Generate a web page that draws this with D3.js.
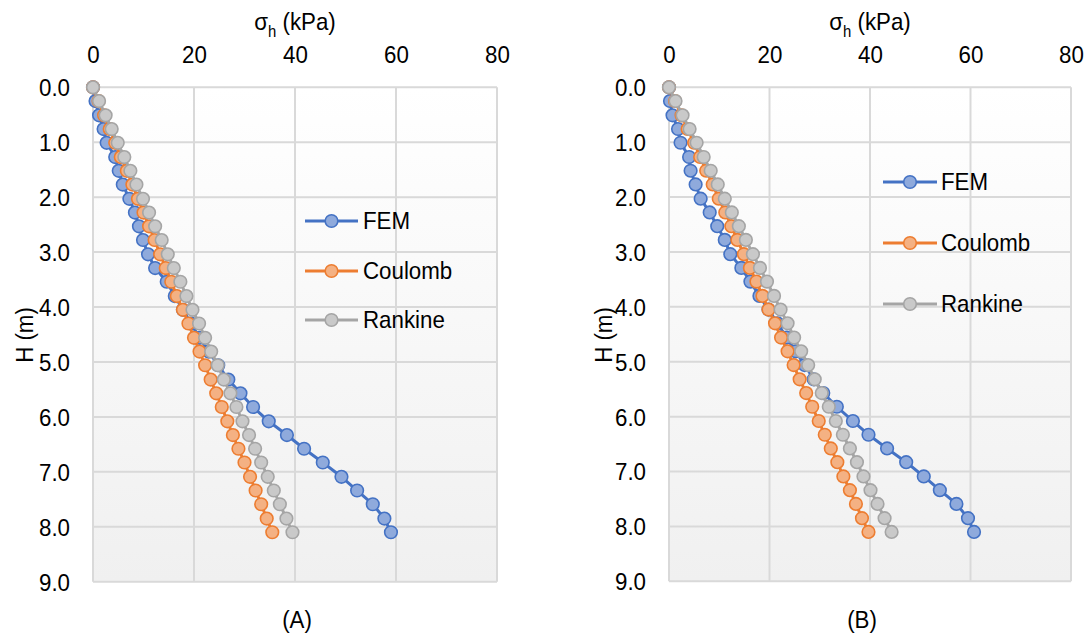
<!DOCTYPE html>
<html>
<head>
<meta charset="utf-8">
<script src="https://cdn.jsdelivr.net/npm/d3@7"></script>
<style>
  html, body { margin: 0; padding: 0; background: #ffffff; }
  svg text { font-family: "Liberation Sans", Arial, sans-serif; fill: #000; }
</style>
</head>
<body>
<svg id="chart" width="1086" height="636"></svg>
<script>
// ---- data ----
const depth = [0, 0.25, 0.51, 0.76, 1.01, 1.27, 1.52, 1.77, 2.03, 2.28, 2.53, 2.78, 3.04, 3.29, 3.54, 3.80,
               4.05, 4.30, 4.56, 4.81, 5.06, 5.32, 5.57, 5.82, 6.08, 6.33, 6.58, 6.83, 7.09, 7.34, 7.59, 7.85, 8.10];

const femA      = [0, 0.5, 1.2, 2.1, 2.7, 4.4, 5.1, 5.9, 7.2, 8.3, 9.1, 9.9, 10.9, 12.3, 14.6, 16.2,
                   17.8, 19.4, 21.1, 22.9, 24.8, 26.8, 29.2, 31.7, 34.8, 38.4, 41.8, 45.5, 49.2, 52.3, 55.4, 57.7, 59.0];
const coulombA  = [0, 1.1, 2.2, 3.3, 4.4, 5.5, 6.7, 7.8, 8.9, 10.0, 11.1, 12.2, 13.3, 14.4, 15.5, 16.6,
                   17.8, 18.9, 20.0, 21.1, 22.2, 23.3, 24.4, 25.5, 26.6, 27.7, 28.8, 30.0, 31.1, 32.2, 33.3, 34.4, 35.5];
const rankineA  = [0, 1.2, 2.5, 3.7, 4.9, 6.2, 7.4, 8.6, 9.9, 11.1, 12.3, 13.6, 14.8, 16.0, 17.3, 18.5,
                   19.7, 21.0, 22.2, 23.4, 24.7, 25.9, 27.2, 28.4, 29.6, 30.9, 32.1, 33.3, 34.6, 35.8, 37.0, 38.3, 39.5];

const femB      = [0, 0.2, 0.7, 1.8, 2.3, 4.0, 4.3, 5.3, 6.3, 8.1, 9.6, 11.1, 12.2, 14.4, 16.2, 18.0,
                   19.8, 21.6, 23.4, 25.2, 27.0, 28.8, 30.7, 33.4, 36.6, 39.7, 43.4, 47.2, 50.7, 53.9, 57.2, 59.5, 60.7];
const coulombB  = [0, 1.2, 2.5, 3.7, 5.0, 6.2, 7.4, 8.7, 9.9, 11.2, 12.4, 13.6, 14.9, 16.1, 17.4, 18.6,
                   19.8, 21.1, 22.3, 23.6, 24.8, 26.0, 27.3, 28.5, 29.8, 31.0, 32.2, 33.5, 34.7, 36.0, 37.2, 38.4, 39.7];
const rankineB  = [0, 1.3, 2.7, 4.1, 5.5, 6.9, 8.3, 9.7, 11.1, 12.5, 13.9, 15.3, 16.7, 18.1, 19.5, 20.9,
                   22.2, 23.6, 24.9, 26.3, 27.7, 29.0, 30.4, 31.8, 33.2, 34.6, 36.0, 37.4, 38.7, 40.1, 41.5, 42.9, 44.3];

const seriesNames = ["FEM", "Coulomb", "Rankine"];
const xTicks = [0, 20, 40, 60, 80];
const yTicks = [0, 1, 2, 3, 4, 5, 6, 7, 8, 9];
const panelLabels = ["(A)", "(B)"];

// ---- styles ----
const lineColors   = ["#4472C4", "#ED7D31", "#A5A5A5"];
const markerFills  = ["#8FAADC", "#F4B183", "#C9C9C9"];
const gridColor = "#D9D9D9";
const FS = 24;
const SX = 0.93;   // horizontal condensing of the lettering

const svg = d3.select("#chart");
const defs = svg.append("defs");
const grad = defs.append("linearGradient").attr("id", "bg").attr("x1", 0).attr("y1", 0).attr("x2", 0).attr("y2", 1);
grad.append("stop").attr("offset", "0%").attr("stop-color", "#ffffff");
grad.append("stop").attr("offset", "100%").attr("stop-color", "#F0F0F0");

function label(parent, x, y, anchor, rot) {
  return parent.append("text")
    .attr("transform", `translate(${x},${y})` + (rot ? ` rotate(${rot})` : "") + ` scale(${SX},1)`)
    .attr("text-anchor", anchor)
    .style("font-size", FS + "px");
}

const panels = [
  { left: 93, right: 497, top: 87.3, bottom: 581.7, data: [femA, coulombA, rankineA],
    legend: { x1: 305, x2: 358, tx: 363, ys: [221, 271, 320] }, yLabelX: 25, subX: 297 },
  { left: 669, right: 1071, top: 87.3, bottom: 581.3, data: [femB, coulombB, rankineB],
    legend: { x1: 883, x2: 937, tx: 941, ys: [182, 243, 304] }, yLabelX: 604, subX: 862 }
];

panels.forEach((p, pi) => {
  const x = d3.scaleLinear().domain([0, 80]).range([p.left, p.right]);
  const y = d3.scaleLinear().domain([0, 9]).range([p.top, p.bottom]);
  const g = svg.append("g");

  g.append("rect").attr("x", p.left).attr("y", p.top)
    .attr("width", p.right - p.left).attr("height", p.bottom - p.top)
    .attr("fill", "url(#bg)");

  g.selectAll(".vg").data(xTicks).join("line")
    .attr("x1", d => x(d)).attr("x2", d => x(d))
    .attr("y1", p.top).attr("y2", p.bottom)
    .attr("stroke", gridColor).attr("stroke-width", 2);
  g.selectAll(".hg").data(yTicks).join("line")
    .attr("x1", p.left).attr("x2", p.right)
    .attr("y1", d => y(d)).attr("y2", d => y(d))
    .attr("stroke", gridColor).attr("stroke-width", 2);

  const xAxis = d3.axisTop(x).tickValues(xTicks).tickSize(0).tickPadding(0).tickFormat(d3.format("d"));
  const xa = g.append("g").attr("transform", `translate(0, ${p.top - 24})`).call(xAxis);
  xa.select(".domain").remove();
  xa.selectAll("text").style("font-size", FS + "px").style("font-family", '"Liberation Sans", Arial, sans-serif')
    .attr("fill", "#000").attr("transform", `scale(${SX},1)`);

  const yAxis = d3.axisLeft(y).tickValues(yTicks).tickSize(0).tickPadding(0).tickFormat(d3.format(".1f"));
  const ya = g.append("g").attr("transform", `translate(${p.left - 23}, 0)`).call(yAxis);
  ya.select(".domain").remove();
  ya.selectAll("text").style("font-size", FS + "px").style("font-family", '"Liberation Sans", Arial, sans-serif')
    .attr("fill", "#000").attr("dy", "0.35em").attr("transform", `scale(${SX},1)`);

  const cx = (p.left + p.right) / 2;
  const t = label(g, cx, 30, "middle");
  t.append("tspan").text("σ");
  t.append("tspan").text("h").attr("dy", 7).style("font-size", "16px");
  t.append("tspan").text(" (kPa)").attr("dy", -7);

  label(g, p.yLabelX + 8, 335, "middle", -90).text("H (m)");
  label(g, p.subX, 628, "middle").text(panelLabels[pi]);

  const line = d3.line().x(d => x(d[0])).y(d => y(d[1]));
  p.data.forEach((vals, si) => {
    const pts = vals.map((v, i) => [v, depth[i]]);
    g.append("path").datum(pts).attr("d", line)
      .attr("fill", "none").attr("stroke", lineColors[si]).attr("stroke-width", 3).attr("stroke-linejoin", "round");
    g.append("g").selectAll("circle").data(pts).join("circle")
      .attr("cx", d => x(d[0])).attr("cy", d => y(d[1])).attr("r", 6.3)
      .attr("fill", markerFills[si]).attr("stroke", lineColors[si]).attr("stroke-width", 1.6);
  });

  seriesNames.forEach((name, si) => {
    const ly = p.legend.ys[si];
    g.append("line").attr("x1", p.legend.x1).attr("x2", p.legend.x2).attr("y1", ly).attr("y2", ly)
      .attr("stroke", lineColors[si]).attr("stroke-width", 3);
    g.append("circle").attr("cx", (p.legend.x1 + p.legend.x2) / 2).attr("cy", ly).attr("r", 6.3)
      .attr("fill", markerFills[si]).attr("stroke", lineColors[si]).attr("stroke-width", 1.6);
    label(g, p.legend.tx, ly, "start").attr("dy", "0.35em").text(name);
  });
});
</script>
</body>
</html>
